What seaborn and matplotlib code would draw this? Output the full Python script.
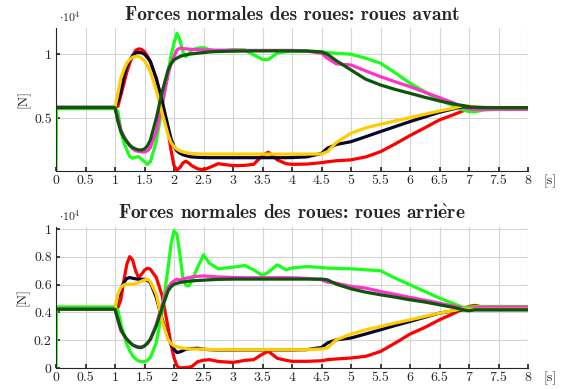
import numpy as np
import pandas as pd
import matplotlib
matplotlib.use('Agg')
import matplotlib.pyplot as plt
import seaborn as sns
from matplotlib.ticker import FuncFormatter, MultipleLocator

# temps [s]
t = [0, 0.01, 1.0, 1.05, 1.1, 1.15, 1.2, 1.25, 1.3, 1.35,
     1.4, 1.45, 1.5, 1.55, 1.6, 1.7, 1.8, 1.9, 1.95, 2.0,
     2.05, 2.1, 2.15, 2.2, 2.25, 2.3, 2.4, 2.5, 2.6, 2.75,
     3.0, 3.2, 3.35, 3.5, 3.6, 3.75, 3.9, 4.0, 4.25, 4.5,
     4.6, 4.75, 5.0, 5.25, 5.5, 5.75, 6.0, 6.25, 6.5, 6.75,
     6.9, 7.0, 7.1, 7.25, 7.5, 8.0]

# ============================
# roues avant [N]
# ============================
red_av = [5830, 5830, 5830, 5950, 6800, 7700, 8600, 9300, 9900, 10300,
          10420, 10380, 10200, 9850, 9400, 8100, 6300, 4000, 2500, 1300,
          950, 1150, 1500, 1650, 1500, 1300, 1050, 980, 1150, 1450,
          1300, 1320, 1400, 2100, 2350, 1750, 1450, 1400, 1420, 1530,
          1600, 1680, 1750, 1980, 2390, 3000, 3650, 4250, 4870, 5300,
          5580, 5700, 5700, 5700, 5700, 5700]
green_av = [880, 5750, 5750, 5520, 3960, 3100, 2530, 2000, 1880, 1950,
            2000, 1800, 1610, 1400, 1610, 3180, 5910, 8650, 9900, 10860,
            11640, 11120, 10210, 9820, 10000, 10340, 10470, 10520, 10350, 10200,
            10360, 10340, 9950, 9600, 9580, 10100, 10200, 10220, 10250, 10200,
            10130, 10080, 10000, 9690, 9300, 8550, 7740, 7080, 6430, 5950,
            5650, 5520, 5500, 5650, 5700, 5700]
magenta_av = [5830, 5830, 5830, 5000, 4090, 3600, 3180, 2850, 2600, 2470,
              2400, 2370, 2370, 2450, 2710, 3960, 6170, 8380, 9300, 9820,
              10340, 10470, 10450, 10420, 10400, 10380, 10350, 10340, 10330, 10320,
              10320, 10300, 10300, 10300, 10300, 10300, 10300, 10300, 10250, 10080,
              9690, 9250, 9160, 8700, 8250, 7850, 7470, 7030, 6610, 6180,
              5850, 5720, 5680, 5680, 5700, 5700]
navy_av = [5860, 5860, 5860, 6300, 7100, 8200, 9040, 9550, 9900, 10100,
           10150, 10120, 10000, 9750, 9430, 8100, 6300, 4350, 3400, 2790,
           2450, 2270, 2150, 2080, 2020, 1980, 1950, 1930, 1920, 1920,
           1920, 1920, 1920, 1920, 1920, 1920, 1920, 1930, 1980, 2250,
           2660, 2950, 3170, 3560, 3960, 4350, 4740, 5100, 5470, 5750,
           5900, 5880, 5860, 5840, 5830, 5830]
yellow_av = [5830, 5830, 5830, 6950, 8120, 8800, 9300, 9600, 9770, 9830,
             9820, 9700, 9480, 9100, 8650, 7200, 5390, 3700, 3100, 2790,
             2580, 2450, 2370, 2320, 2280, 2250, 2220, 2200, 2200, 2200,
             2200, 2200, 2200, 2200, 2200, 2200, 2200, 2200, 2200, 2210,
             2390, 3100, 3830, 4250, 4530, 4790, 5050, 5310, 5570, 5800,
             5990, 5950, 5870, 5840, 5830, 5830]
dkgreen_av = [5830, 5830, 5830, 4740, 3960, 3500, 3180, 2900, 2710, 2600,
              2530, 2520, 2600, 2850, 3310, 5000, 7080, 8780, 9250, 9560,
              9700, 9820, 9900, 9950, 10000, 10030, 10080, 10130, 10180, 10220,
              10240, 10250, 10260, 10260, 10260, 10260, 10260, 10260, 10250, 10180,
              10000, 9500, 8770, 8050, 7600, 7250, 6950, 6640, 6350, 6100,
              5990, 5900, 5850, 5830, 5830, 5830]

# ============================
# roues arrière [N]
# ============================
red_ar = [4230, 4230, 4230, 4350, 4950, 6270, 7470, 8020, 7760, 6990,
          6510, 6750, 7040, 7180, 7110, 6510, 5190, 2910, 1700, 750,
          150, 0, 20, 30, 50, 100, 450, 560, 600, 470,
          400, 550, 600, 1000, 1200, 700, 550, 480, 480, 520,
          600, 650, 720, 840, 1190, 1800, 2440, 2920, 3470, 3950,
          4250, 4430, 4510, 4380, 4380, 4380]
green_ar = [0, 4400, 4400, 4160, 3150, 2400, 1710, 1250, 870, 650,
            510, 460, 460, 550, 750, 1830, 4110, 7230, 8910, 9870,
            9630, 8190, 6510, 5980, 5900, 6270, 7230, 8150, 7550, 7140,
            7260, 7380, 7070, 6660, 6900, 7430, 7070, 7200, 7300, 7240,
            7190, 7170, 7140, 7070, 7000, 6470, 5990, 5510, 5030, 4620,
            4360, 4380, 4420, 4430, 4430, 4430]
magenta_ar = [4230, 4230, 4230, 3390, 2670, 2350, 2070, 1850, 1660, 1580,
              1520, 1530, 1590, 1750, 2070, 3150, 4590, 5790, 6100, 6270,
              6390, 6340, 6400, 6460, 6500, 6550, 6600, 6630, 6600, 6550,
              6520, 6500, 6500, 6500, 6500, 6500, 6500, 6500, 6450, 6350,
              6180, 6110, 5870, 5750, 5510, 5300, 5080, 4880, 4670, 4450,
              4300, 4270, 4330, 4380, 4380, 4380]
navy_ar = [4230, 4230, 4230, 5070, 5670, 6150, 6440, 6510, 6460, 6420,
           6390, 6390, 6390, 6300, 6150, 5070, 3510, 2190, 1700, 1350,
           1110, 1160, 1250, 1350, 1380, 1400, 1420, 1350, 1320, 1300,
           1300, 1300, 1300, 1300, 1300, 1300, 1300, 1300, 1320, 1480,
           1800, 2030, 2160, 2450, 2750, 3060, 3350, 3650, 3950, 4120,
           4190, 4200, 4200, 4200, 4200, 4200]
yellow_ar = [4230, 4230, 4230, 5310, 5790, 5980, 6030, 6030, 6030, 6080,
             6150, 6250, 6340, 6390, 6220, 5310, 3390, 2070, 1750, 1590,
             1530, 1470, 1430, 1400, 1380, 1370, 1360, 1350, 1340, 1330,
             1320, 1320, 1320, 1320, 1320, 1320, 1320, 1320, 1320, 1370,
             1440, 2030, 2440, 2750, 2990, 3240, 3470, 3710, 3950, 4140,
             4260, 4240, 4220, 4220, 4220, 4220]
dkgreen_ar = [4230, 4230, 4230, 3510, 2790, 2400, 2070, 1850, 1660, 1550,
              1470, 1470, 1590, 1800, 2070, 3030, 4350, 5550, 5850, 6030,
              6100, 6150, 6190, 6220, 6250, 6270, 6300, 6320, 6350, 6380,
              6400, 6400, 6400, 6400, 6400, 6400, 6400, 6400, 6400, 6400,
              6350, 6040, 5700, 5460, 5270, 5100, 4910, 4750, 4550, 4350,
              4190, 4120, 4190, 4190, 4190, 4190]

palette = {'rouge': '#ff0000', 'vert': '#19ff19', 'magenta': '#ff33cc',
           'marine': '#07072e', 'jaune': '#ffcc00', 'vert fonce': '#0b560b'}
order = ['rouge', 'vert', 'magenta', 'marine', 'jaune', 'vert fonce']


def to_long(series):
    frames = []
    for name, vals in zip(order, series):
        frames.append(pd.DataFrame({'t': t, 'F': vals, 'roue': name}))
    return pd.concat(frames, ignore_index=True)


df_av = to_long([red_av, green_av, magenta_av, navy_av, yellow_av, dkgreen_av])
df_ar = to_long([red_ar, green_ar, magenta_ar, navy_ar, yellow_ar, dkgreen_ar])

sns.set_theme(style='white')
plt.rcParams['font.family'] = ['cmr10', 'DejaVu Serif']
plt.rcParams['mathtext.fontset'] = 'cm'
plt.rcParams['axes.formatter.use_mathtext'] = True

fig = plt.figure(figsize=(5.68, 3.89), dpi=100)
ax1 = fig.add_axes([56 / 568, 1 - 171 / 389, 472 / 568, 143 / 389])
ax2 = fig.add_axes([56 / 568, 1 - 368 / 389, 472 / 568, 141 / 389])

# the e grave comes from mathtext so it stays in Computer Modern bold
setup = [
    (ax1, df_av, 'Forces normales des roues: roues avant', (880, 12050), [5000, 10000]),
    (ax2, df_ar, r'Forces normales des roues: roues arri$\mathbf{\grave{e}}$re', (0, 10150),
     list(range(0, 10001, 2000))),
]

for ax, df, title, ylim, yticks in setup:
    sns.lineplot(data=df, x='t', y='F', hue='roue', hue_order=order,
                 palette=palette, linewidth=2.3, legend=False, ax=ax)
    ax.set_xlim(0, 8)
    ax.set_ylim(*ylim)
    ax.xaxis.set_major_locator(MultipleLocator(0.5))
    ax.xaxis.set_major_formatter(FuncFormatter(lambda v, p: f'{v:g}'))
    ax.set_yticks(yticks)
    ax.yaxis.set_major_formatter(FuncFormatter(lambda v, p: f'{v / 1e4:g}'))
    ax.grid(True, color='#d4d4d4', lw=0.8)
    ax.set_axisbelow(True)
    for s in ['top', 'right']:
        ax.spines[s].set_visible(False)
    for s in ['left', 'bottom']:
        ax.spines[s].set_color('#262626')
        ax.spines[s].set_linewidth(0.8)
    ax.tick_params(direction='in', length=3, colors='#262626', labelsize=10,
                   labelcolor='#262626', pad=3, left=True, bottom=True)
    ax.set_xlabel('')
    ax.set_ylabel('[N]', fontsize=10, labelpad=3)
    ax.set_title(title, fontsize=14, family='cmb10', pad=6)
    ax.text(0.006, 1.025, r'$\cdot 10^4$', transform=ax.transAxes,
            fontsize=8.5, va='bottom', ha='left', color='#262626')
    ax.text(1.032, -0.07, '[s]', transform=ax.transAxes, fontsize=10,
            va='center', ha='left', color='#262626')

fig.savefig('out.png', dpi=100)
